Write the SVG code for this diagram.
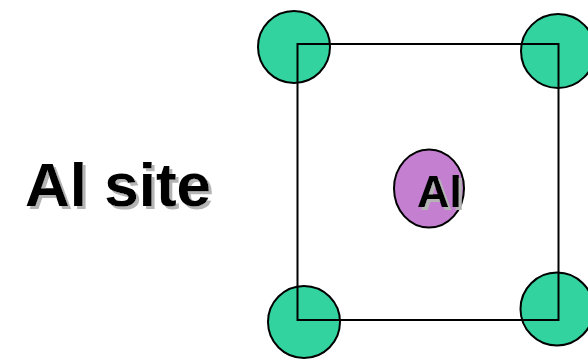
<svg xmlns="http://www.w3.org/2000/svg" width="588" height="359" viewBox="0 0 588 359">
<defs>
<filter id="shadow" x="-10%" y="-10%" width="130%" height="140%">
<feOffset in="SourceAlpha" dx="3" dy="3" result="o"/>
<feFlood flood-color="#b4b4b4"/>
<feComposite in2="o" operator="in" result="s"/>
<feMerge><feMergeNode in="s"/><feMergeNode in="SourceGraphic"/></feMerge>
</filter>
</defs>
<style>
.atom{fill:#33d39f;stroke:#000;stroke-width:2}
.al{fill:#c47fd0;stroke:#000;stroke-width:2}
.t{font-family:"Liberation Sans",Arial,sans-serif;font-weight:bold;fill:#000;filter:url(#shadow)}
</style>
<rect width="588" height="359" fill="#fff"/>
<g id="atom-tl"><circle class="atom" cx="294" cy="47" r="36"/></g>
<g id="atom-tr"><circle class="atom" cx="558" cy="51" r="37"/></g>
<g id="atom-bl"><circle class="atom" cx="304" cy="322" r="36"/></g>
<g id="atom-br"><circle class="atom" cx="557" cy="309" r="36.5"/></g>
<g id="connectors"><rect x="297.5" y="44" width="261" height="276" fill="none" stroke="#000" stroke-width="2"/></g>
<g id="atom-al">
<ellipse class="al" cx="429" cy="188.5" rx="35" ry="39"/>
<text class="t" x="417" y="206.5" font-size="45">Al</text>
</g>
<g id="label">
<text class="t" x="25" y="206" font-size="62">Al site</text>
</g>
</svg>
